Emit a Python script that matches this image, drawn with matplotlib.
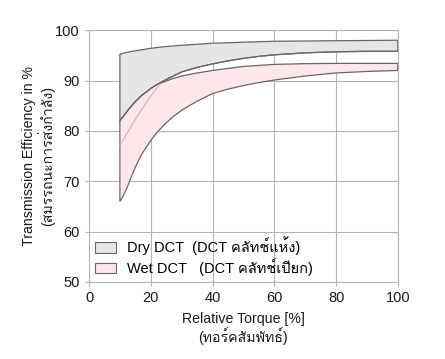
import matplotlib
matplotlib.use("Agg")
import matplotlib.pyplot as plt
from matplotlib import font_manager
from matplotlib.ft2font import FT2Font
from matplotlib.patches import Patch

# ---- data ----
torque = [10, 11, 12, 13, 15, 17, 20, 22, 25, 27, 30, 35, 40, 45, 50, 55, 60, 70, 80, 90, 100]
dry_upper = [95.2, 95.4, 95.55, 95.7, 95.9, 96.1, 96.4, 96.55, 96.75, 96.85, 97.0, 97.2, 97.4,
             97.5, 97.6, 97.7, 97.8, 97.85, 97.9, 97.95, 98.0]
dry_lower = [82.0, 82.8, 83.6, 84.4, 85.8, 87.0, 88.4, 89.2, 90.2, 90.8, 91.7, 92.6, 93.3,
             93.9, 94.4, 94.8, 95.1, 95.5, 95.7, 95.8, 95.8]
wet_upper = [82.0, 82.8, 83.6, 84.4, 85.8, 87.0, 88.4, 89.2, 89.9, 90.35, 90.9, 91.5, 92.0,
             92.4, 92.8, 93.0, 93.2, 93.35, 93.4, 93.4, 93.4]
wet_lower = [66.0, 67.0, 68.3, 69.8, 72.8, 75.3, 78.1, 79.7, 81.6, 82.7, 84.1, 85.9, 87.4,
             88.3, 89.0, 89.6, 90.1, 90.9, 91.5, 91.8, 92.0]
inner_x = [10, 15, 20, 23]
inner_y = [77.1, 82.3, 87.0, 89.3]
xticks = [0, 20, 40, 60, 80, 100]
yticks = [50, 60, 70, 80, 90, 100]
labels = ["Dry DCT  (DCT คลัทช์แห้ง)", "Wet DCT   (DCT คลัทช์เปียก)"]

# ---- fonts: find one with Thai glyphs ----
thai_font = None
for f in font_manager.fontManager.ttflist:
    try:
        cm = FT2Font(f.fname).get_charmap()
        if 0x0E01 in cm and 0x0E31 in cm:
            thai_font = f.name
            break
    except Exception:
        pass
fams = ["Liberation Sans", "DejaVu Sans"]
if thai_font:
    fams.insert(1, thai_font)
plt.rcParams["font.family"] = fams

fig = plt.figure(figsize=(4.45, 3.59), dpi=100)
ax = fig.add_axes([0.2, 0.2145, 0.694, 0.7015])

edge = "#6e6466"
xs = torque + torque[::-1]
ax.fill(xs, dry_upper + dry_lower[::-1], facecolor="#e6e6e6", edgecolor=edge,
        linewidth=0.9, zorder=3)
ax.fill(xs, wet_upper + wet_lower[::-1], facecolor="#fde7ea", edgecolor=edge,
        linewidth=0.9, zorder=3)
ax.plot(inner_x, inner_y, color="#d2b9be", linewidth=0.9, zorder=3.5)
ax.plot(torque, dry_lower, color=edge, linewidth=0.9, zorder=4)

ax.set_xlim(0, 100)
ax.set_ylim(50, 100)
ax.set_xticks(xticks)
ax.set_yticks(yticks)
ax.grid(True, color="#b4b4b4", linewidth=0.8, zorder=0)
ax.set_axisbelow(True)
for s in ax.spines.values():
    s.set_color("#b4b4b4")
    s.set_linewidth(0.8)
ax.tick_params(axis="both", colors="#b4b4b4", labelcolor="#1a1a1a", labelsize=10.5,
               length=3, width=0.8)

ax.set_xlabel("Relative Torque [%]\n(ทอร์คสัมพัทธ์)", fontsize=10.2, color="#1a1a1a",
              linespacing=1.1, labelpad=5)
ax.set_ylabel("Transmission Efficiency in %\n(สมรรถนะการส่งกำลัง)", fontsize=10.2,
              color="#1a1a1a", linespacing=1.1, labelpad=0)

handles = [Patch(facecolor="#e6e6e6", edgecolor=edge, linewidth=0.8),
           Patch(facecolor="#fde7ea", edgecolor=edge, linewidth=0.8)]
ax.legend(handles, labels, loc="lower left", frameon=False, fontsize=10.5,
          handlelength=1.45, handleheight=0.75, handletextpad=0.75, labelspacing=0.2,
          borderaxespad=0.0, bbox_to_anchor=(0.0, 0.0))

fig.savefig("out.png", dpi=100)
